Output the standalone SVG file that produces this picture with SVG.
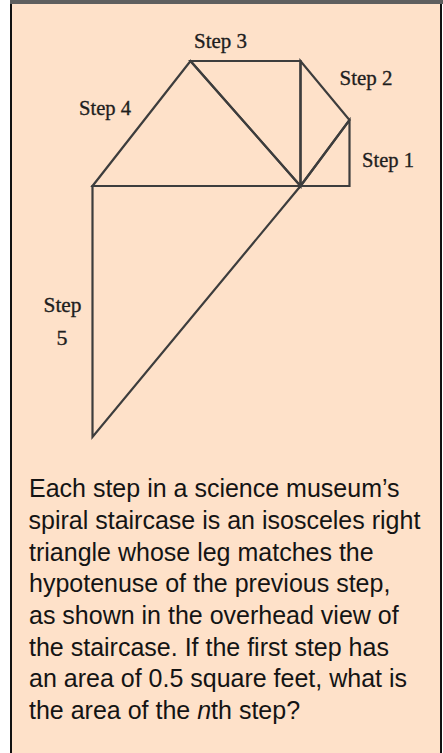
<svg xmlns="http://www.w3.org/2000/svg" width="443" height="753" viewBox="0 0 443 753">
<style>
.edge{stroke:#3d3d3d;stroke-width:2.2;fill:none;stroke-linejoin:miter;stroke-linecap:square}
.lbl{font-family:"Liberation Serif","Times New Roman",serif;font-size:22px;fill:#1e1e1e;stroke:#1e1e1e;stroke-width:0.35}
.para{font-family:"Liberation Sans",Arial,sans-serif;font-size:25px;fill:#141414}
</style>
<rect x="0" y="0" width="443" height="753" fill="#ffffff"/>
<rect x="11" y="0" width="430" height="760" fill="#fee1c9" stroke="#111" stroke-width="2"/>
<rect x="10" y="0" width="433" height="4" fill="#5f5f5f"/>
<g id="connectors">
<g id="step1"><polygon class="edge" points="300.5,186 349.5,186 349.5,120"/></g>
<g id="step2"><polygon class="edge" points="300.5,186 349.5,120 300.5,61"/></g>
<g id="step3"><polygon class="edge" points="300.5,186 300.5,61 190.5,61"/></g>
<g id="step4"><polygon class="edge" points="300.5,186 190.5,61 92.5,186"/></g>
<g id="step5"><polygon class="edge" points="300.5,186 92.5,186 92.5,437"/></g>
</g>
<g id="labels">
<text class="lbl" x="194" y="48" textLength="53" lengthAdjust="spacingAndGlyphs">Step 3</text>
<text class="lbl" x="79" y="115" textLength="52" lengthAdjust="spacingAndGlyphs">Step 4</text>
<text class="lbl" x="339.5" y="85" textLength="53" lengthAdjust="spacingAndGlyphs">Step 2</text>
<text class="lbl" x="362" y="167" textLength="52" lengthAdjust="spacingAndGlyphs">Step 1</text>
<text class="lbl" x="43.5" y="311.5" textLength="38" lengthAdjust="spacingAndGlyphs">Step</text>
<text class="lbl" x="56.5" y="345">5</text>
</g>
<g id="problem-text" class="para">
<text x="29" y="497.3">Each step in a science museum’s</text>
<text x="28.5" y="529">spiral staircase is an isosceles right</text>
<text x="29" y="560.7">triangle whose leg matches the</text>
<text x="29" y="592.3">hypotenuse of the previous step,</text>
<text x="29" y="624">as shown in the overhead view of</text>
<text x="29" y="655.7">the staircase. If the first step has</text>
<text x="29" y="687.3">an area of 0.5 square feet, what is</text>
<text x="29" y="719">the area of the <tspan font-style="italic">n</tspan>th step?</text>
</g>
</svg>
